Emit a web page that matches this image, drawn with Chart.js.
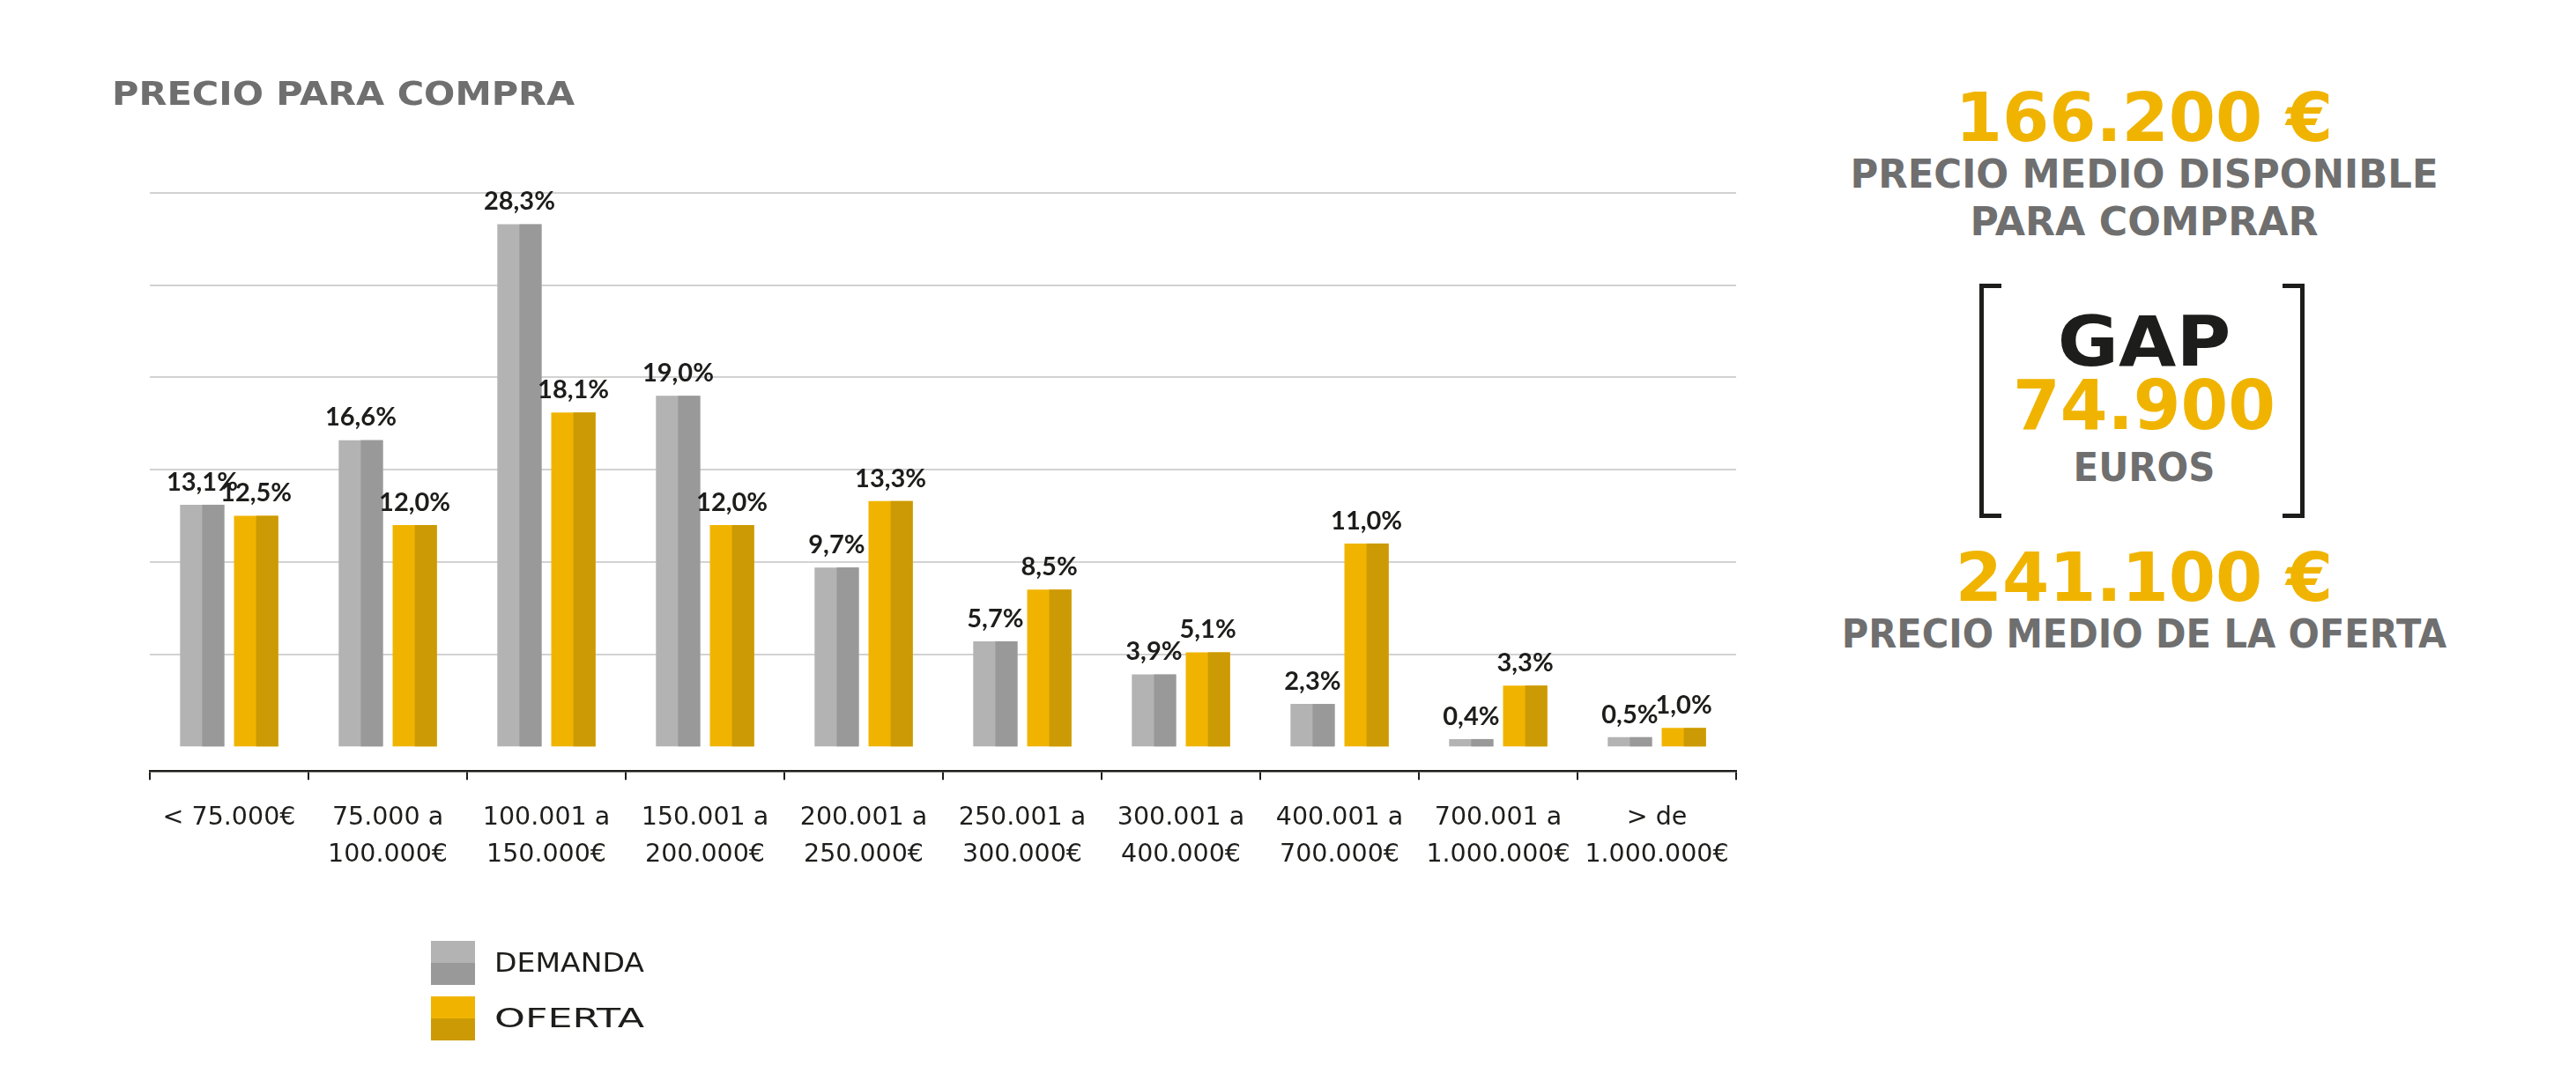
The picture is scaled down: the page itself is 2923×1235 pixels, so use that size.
<!DOCTYPE html>
<html>
<head>
<meta charset="utf-8">
<script src="https://cdn.jsdelivr.net/npm/chart.js@4.4.1/dist/chart.umd.min.js"></script>
<style>
  html, body { margin: 0; padding: 0; background: #fff; }
  #page { position: relative; width: 2923px; height: 1235px; overflow: hidden; }
  #chart-box { position: absolute; left: 0; top: 0; width: 2000px; height: 1235px; }
  .txt { position: absolute; white-space: nowrap; line-height: 1; transform-origin: center center; }
  .head { font-family: "DejaVu Sans", sans-serif; font-weight: bold; }
  .gray { color: #6f6f6f; }
  .yellow { color: #f0b400; }
  .black { color: #1d1d1b; }
  .bracket { position: absolute; top: 322px; height: 256px; width: 20px; border: 5px solid #1d1d1b; }
  .legend-item { position: absolute; left: 489px; }
  .legend-sq { position: absolute; left: 0; top: 0; width: 50px; height: 50px; }
  .legend-label { position: absolute; left: 72px; top: 25px; transform-origin: left center;
    font-family: "DejaVu Sans", sans-serif; font-size: 30px; color: #1d1d1b; white-space: nowrap; line-height: 1; }
</style>
</head>
<body>
<div id="page">
  <div id="chart-box"><canvas id="price-chart" width="2000" height="1235"></canvas></div>

  <div class="txt head gray" data-w="525" data-align="left" style="left:127px; top:106px; font-size:37px;">PRECIO PARA COMPRA</div>

  <div id="legend"></div>

  <!-- right side summary -->
  <div class="txt head yellow" data-w="429" style="left:2433px; top:134px; font-size:76px;">166.200 €</div>
  <div class="txt head gray" data-w="667" style="left:2433px; top:198px; font-size:44px;">PRECIO MEDIO DISPONIBLE</div>
  <div class="txt head gray" data-w="395" style="left:2433px; top:252px; font-size:44px;">PARA COMPRAR</div>

  <div class="bracket" style="left:2246px; border-right:none;"></div>
  <div class="bracket" style="left:2590px; border-left:none;"></div>

  <div class="txt head black" data-w="197" style="left:2433px; top:388px; font-size:78px;">GAP</div>
  <div class="txt head yellow" data-w="298" style="left:2433px; top:460px; font-size:78px;">74.900</div>
  <div class="txt head gray" data-w="161" style="left:2433px; top:531px; font-size:44px;">EUROS</div>

  <div class="txt head yellow" data-w="429" style="left:2433px; top:656px; font-size:76px;">241.100 €</div>
  <div class="txt head gray" data-w="686" style="left:2433px; top:720px; font-size:44px;">PRECIO MEDIO DE LA OFERTA</div>
</div>

<script>
// Chart data
const categories = [
    '< 75.000€',
    ['75.000 a', '100.000€'],
    ['100.001 a', '150.000€'],
    ['150.001 a', '200.000€'],
    ['200.001 a', '250.000€'],
    ['250.001 a', '300.000€'],
    ['300.001 a', '400.000€'],
    ['400.001 a', '700.000€'],
    ['700.001 a', '1.000.000€'],
    ['> de', '1.000.000€']
];
const demanda = [13.1, 16.6, 28.3, 19.0, 9.7, 5.7, 3.9, 2.3, 0.4, 0.5];
const oferta = [12.5, 12.0, 18.1, 12.0, 13.3, 8.5, 5.1, 11.0, 3.3, 1.0];
const seriesNames = ['DEMANDA', 'OFERTA'];
const gridTicks = [5, 10, 15, 20, 25, 30];

// Light / dark halves of each bar
const lightColors = ['#b3b3b3', '#f0b400'];
const darkColors = ['#999999', '#cc9a04'];

/**
 * Paints the right half of every bar in the darker tone
 */
const twoTonePlugin = {
    id: 'twoTone',
    afterDatasetsDraw(chart) {
        const ctx = chart.ctx;
        chart.data.datasets.forEach((ds, i) => {
            const meta = chart.getDatasetMeta(i);
            ctx.save();
            ctx.fillStyle = darkColors[i];
            meta.data.forEach(bar => {
                const { x, y, base, width } = bar.getProps(['x', 'y', 'base', 'width'], true);
                ctx.fillRect(x, y, width / 2, base - y);
            });
            ctx.restore();
        });
    }
};

/**
 * Draws the "13,1%" style labels over the bars
 */
const valueLabelPlugin = {
    id: 'valueLabels',
    afterDatasetsDraw(chart) {
        const ctx = chart.ctx;
        ctx.save();
        ctx.font = 'bold 29px Lato, sans-serif';
        ctx.fillStyle = '#1d1d1b';
        ctx.textAlign = 'center';
        ctx.textBaseline = 'bottom';
        chart.data.datasets.forEach((ds, i) => {
            chart.getDatasetMeta(i).data.forEach((bar, j) => {
                const text = ds.data[j].toFixed(1).replace('.', ',') + '%';
                ctx.fillText(text, bar.x, bar.y - 11);
            });
        });
        ctx.restore();
    }
};

const ctx = document.getElementById('price-chart').getContext('2d');
const priceChart = new Chart(ctx, {
    type: 'bar',
    data: {
        labels: categories,
        datasets: [
            { label: seriesNames[0], data: demanda, backgroundColor: lightColors[0] },
            { label: seriesNames[1], data: oferta, backgroundColor: lightColors[1] }
        ]
    },
    options: {
        responsive: false,
        animation: false,
        categoryPercentage: 0.68,
        barPercentage: 0.82,
        layout: { padding: { left: 170, right: 30, top: 219, bottom: 221 } },
        plugins: {
            legend: { display: false },
            tooltip: { enabled: false }
        },
        scales: {
            x: {
                border: { color: '#1d1d1b', width: 2.5 },
                grid: {
                    offset: true,
                    drawOnChartArea: false,
                    drawTicks: true,
                    tickLength: 10,
                    color: '#1d1d1b',
                    lineWidth: 2
                },
                ticks: {
                    color: '#1d1d1b',
                    padding: 23,
                    maxRotation: 0,
                    autoSkip: false,
                    font: { family: 'DejaVu Sans', weight: 'normal', size: 28.5, lineHeight: 1.45 }
                }
            },
            y: {
                min: -1.34, // zero sits a little above the black axis line
                max: 30,
                afterBuildTicks: scale => {
                    scale.ticks = gridTicks.map(v => ({ value: v }));
                },
                border: { display: false },
                grid: { color: '#d2d2d2', lineWidth: 2, drawTicks: false },
                ticks: { display: false }
            }
        }
    },
    plugins: [twoTonePlugin, valueLabelPlugin]
});

// HTML legend built from the datasets
const legend = document.getElementById('legend');
priceChart.data.datasets.forEach((ds, i) => {
    const item = document.createElement('div');
    item.className = 'legend-item';
    item.style.top = (1068 + i * 63) + 'px';
    item.innerHTML = `
        <div class="legend-sq" style="background: linear-gradient(${lightColors[i]} 50%, ${darkColors[i]} 50%);"></div>
        <div class="legend-label" data-w="170" data-align="left">${ds.label}</div>`;
    legend.appendChild(item);
});

// Stretch each text block horizontally so it matches its width in the picture
document.querySelectorAll('[data-w]').forEach(el => {
    const s = parseFloat(el.dataset.w) / el.offsetWidth;
    if (el.dataset.align === 'left') {
        el.style.transformOrigin = 'left center';
        el.style.transform = `translate(0, -50%) scaleX(${s})`;
    } else {
        el.style.transform = `translate(-50%, -50%) scaleX(${s})`;
    }
});
</script>
</body>
</html>
